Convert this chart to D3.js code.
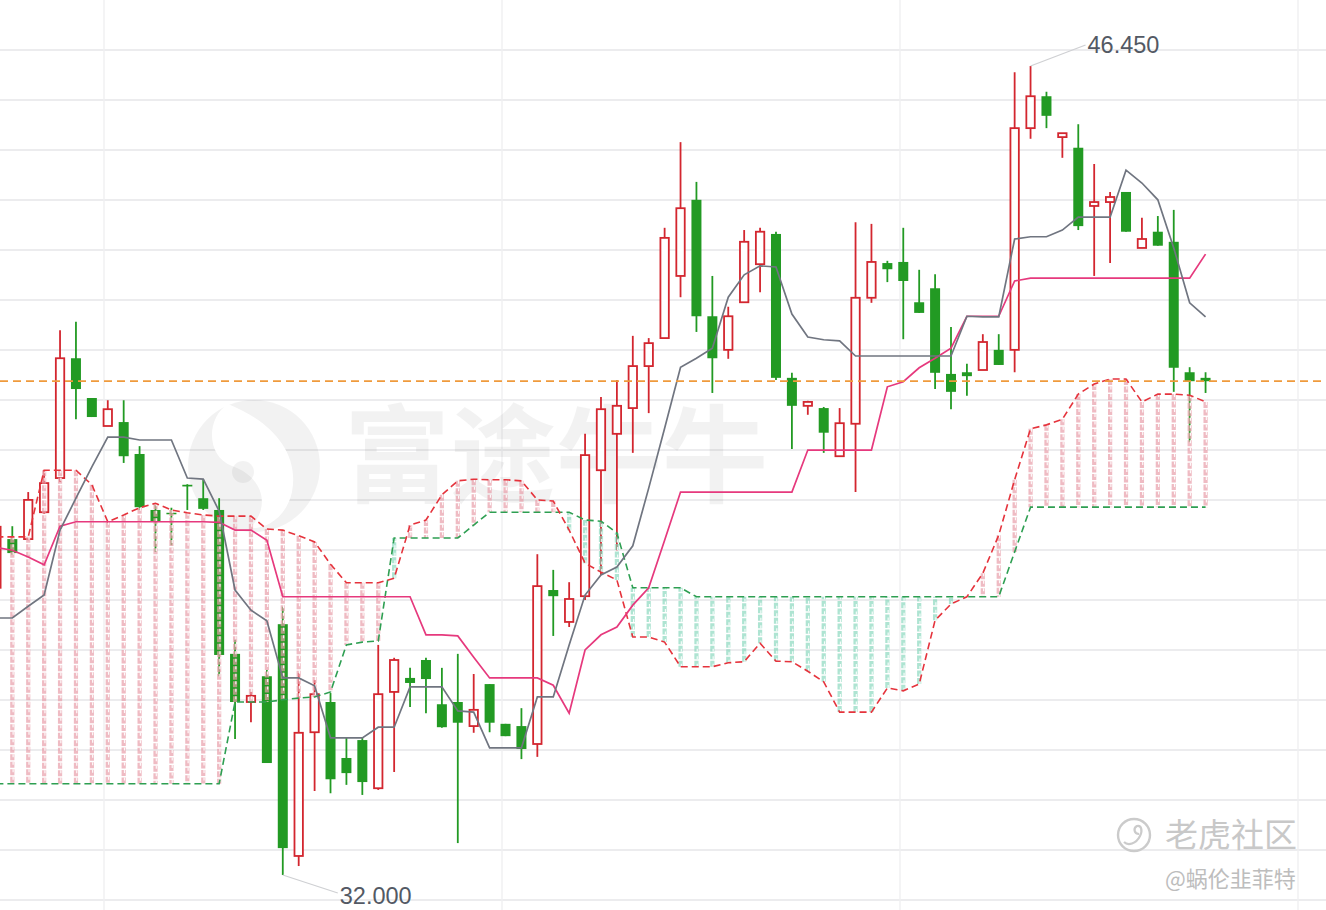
<!DOCTYPE html>
<html><head><meta charset="utf-8">
<script src="https://cdn.jsdelivr.net/npm/d3@7"></script>
<style>html,body{margin:0;padding:0;background:#fff;overflow:hidden}</style>
</head><body><svg id="chart" width="1326" height="910"></svg>
<script>
// ---- data (prices) ----
const open  = [37.13,38.00,38.00,38.48,39.09,41.23,40.52,40.02,40.09,39.52,38.52,38.47,38.97,38.73,38.52,35.95,35.09,35.55,36.48,32.34,34.55,35.09,34.09,34.41,33.55,35.27,35.52,35.84,35.05,35.09,34.66,35.41,34.70,34.66,34.34,37.09,36.52,36.98,39.23,39.88,40.34,41.09,41.59,42.70,44.06,41.98,41.38,42.23,42.91,43.45,40.88,40.38,40.34,39.48,40.06,42.31,42.93,42.95,42.23,42.48,40.95,40.98,41.02,41.38,41.38,45.34,45.91,45.18,44.99,43.95,44.02,44.20,43.20,43.49,43.31,40.98,40.88];
const high  = [38.43,38.23,38.84,39.23,41.73,41.88,40.52,40.48,40.48,39.66,38.61,38.56,38.98,39.07,38.73,36.20,35.27,35.66,36.79,35.61,35.48,35.25,34.45,34.45,36.11,35.88,35.70,35.88,35.70,35.95,35.59,35.41,34.70,34.98,37.73,37.45,37.23,39.88,40.54,40.84,41.63,41.59,43.56,45.09,44.38,42.70,42.15,43.52,43.56,43.49,40.97,40.47,40.36,40.34,43.66,43.63,42.97,43.56,42.81,42.73,41.79,41.13,41.66,41.66,46.34,46.45,45.99,45.25,45.41,44.70,44.20,44.20,43.74,43.77,43.88,41.07,40.98];
const low   = [37.09,37.72,37.98,38.45,39.02,40.14,40.18,40.02,39.36,38.52,37.77,37.89,38.52,38.52,35.55,34.43,34.73,34.00,32.00,32.16,33.50,33.46,33.61,33.43,33.52,33.84,35.00,34.89,34.63,32.57,34.54,34.55,34.48,34.07,34.11,36.27,36.43,36.91,37.36,37.80,39.54,40.25,41.59,42.32,41.70,40.61,41.22,42.23,42.41,40.84,39.61,40.22,39.54,39.48,38.84,42.22,42.59,41.57,42.04,40.68,40.32,40.56,41.02,41.11,40.98,45.15,45.34,44.81,43.52,42.70,42.93,43.49,43.20,43.24,40.63,39.73,40.61];
const close = [38.22,37.75,38.70,39.00,41.23,40.68,40.18,40.32,39.48,38.57,38.31,38.45,38.94,38.54,35.93,35.09,35.20,34.00,32.48,34.54,35.23,33.71,33.82,33.66,35.23,35.84,35.43,35.50,34.64,34.72,34.95,34.72,34.48,34.25,37.16,36.98,36.93,39.50,40.32,40.38,41.09,41.50,43.38,43.91,41.98,41.23,41.98,43.31,43.49,40.88,40.38,40.45,39.90,40.07,42.31,42.95,42.82,42.61,42.04,40.97,40.63,40.91,41.52,41.11,45.34,45.91,45.56,45.25,43.59,44.02,44.11,43.49,43.36,43.24,41.06,40.82,40.82];
// conversion line (grey) and base line (pink)
const tenkan = [36.59,36.59,36.80,37.00,38.16,38.73,39.29,39.82,39.82,39.77,39.77,39.77,39.09,39.07,38.50,37.09,36.73,36.54,35.52,35.52,35.38,34.45,34.45,34.45,34.64,34.64,35.36,35.36,35.36,34.93,34.91,34.27,34.27,34.27,35.18,35.18,36.11,37.00,37.36,37.50,37.88,38.91,39.98,41.07,41.23,41.41,42.32,42.72,42.88,42.86,42.02,41.61,41.56,41.54,41.27,41.27,41.27,41.27,41.27,41.27,41.27,41.98,41.97,41.97,43.36,43.40,43.40,43.52,43.75,43.75,43.75,44.59,44.36,44.06,43.20,42.22,41.97];
const kijun  = [37.85,37.80,37.68,37.54,38.23,38.31,38.31,38.31,38.31,38.31,38.31,38.31,38.31,38.31,38.30,38.16,38.16,37.98,36.97,36.97,36.97,36.97,36.97,36.97,36.97,36.97,36.97,36.29,36.29,36.27,35.89,35.52,35.52,35.52,35.52,35.39,34.89,36.02,36.29,36.43,36.82,37.13,37.98,38.84,38.84,38.84,38.84,38.84,38.84,38.84,38.84,39.59,39.59,39.59,39.59,39.59,40.72,40.81,41.06,41.23,41.41,41.98,41.98,41.98,42.61,42.66,42.66,42.66,42.66,42.66,42.66,42.66,42.66,42.66,42.66,42.66,43.09];
// leading spans (cloud)
const spanA = [38.04,38.04,38.04,39.23,39.23,39.23,38.97,38.31,38.43,38.56,38.64,38.52,38.47,38.43,38.41,38.41,38.41,38.18,38.16,38.06,37.95,37.55,37.22,37.22,37.22,37.30,38.25,38.34,38.79,39.04,39.07,39.06,39.06,39.04,38.70,38.68,38.16,37.57,37.41,37.27,36.25,36.25,36.16,35.72,35.72,35.72,35.79,35.81,36.14,35.82,35.81,35.64,35.45,34.91,34.91,34.91,35.34,35.29,35.41,36.55,36.84,36.97,37.39,38.07,39.06,39.97,40.04,40.14,40.59,40.77,40.86,40.86,40.45,40.59,40.59,40.57,40.45];
const spanB = [33.63,33.63,33.63,33.63,33.63,33.63,33.63,33.63,33.63,33.63,33.63,33.63,33.63,33.63,33.63,35.09,35.09,35.09,35.13,35.16,35.18,35.27,36.11,36.16,36.18,38.02,38.02,38.02,38.02,38.02,38.25,38.48,38.48,38.48,38.48,38.48,38.48,38.34,38.32,38.11,37.13,37.13,37.13,37.13,36.97,36.97,36.97,36.97,36.97,36.97,36.97,36.97,36.97,36.97,36.97,36.97,36.97,36.97,36.97,36.97,36.97,36.97,36.97,36.97,37.77,38.57,38.57,38.57,38.57,38.57,38.57,38.57,38.57,38.57,38.57,38.57,38.57];
const lastPrice = 40.82;
const maxLabel = "46.450", minLabel = "32.000";

// ---- layout ----
const W = 1326, H = 910;
const RED = "#d3262f", GREEN = "#229a23";
const svg = d3.select("#chart");
const n = close.length;
const x = d3.scaleLinear().domain([0, n - 1]).range([-3.6, -3.6 + (n - 1) * 15.91]);
const y = d3.scaleLinear().domain([32, 46.45]).range([875, 66]);
const bars = d3.range(n).map(i => ({i, o: open[i], h: high[i], l: low[i], c: close[i]}));

// grid
svg.append("g").selectAll("line").data(d3.range(50, 901, 50)).join("line")
  .attr("x1", 0).attr("x2", W).attr("y1", d => d).attr("y2", d => d)
  .attr("stroke", "#e6e6e9").attr("stroke-width", 1.6);
svg.append("g").selectAll("line").data(d3.range(104, W, 398)).join("line")
  .attr("x1", d => d).attr("x2", d => d).attr("y1", 0).attr("y2", H)
  .attr("stroke", "#efeff1").attr("stroke-width", 1.4);

// watermark (futu)
const wm = svg.append("g");
wm.append("circle").attr("cx", 254).attr("cy", 466).attr("r", 66).attr("fill", "rgba(0,0,0,0.05)");
wm.append("path").attr("d", "M228,404 C268,420 300,450 292,492 C286,520 262,530 250,528 C272,506 262,476 232,466 C206,456 206,418 228,404 Z")
  .attr("fill", "#fff");
wm.append("circle").attr("cx", 243).attr("cy", 472).attr("r", 11).attr("fill", "rgba(0,0,0,0.05)");
wm.append("text").attr("x", 344).attr("y", 494).text("富途牛牛")
  .attr("font-family", "Noto Sans CJK SC").attr("font-weight", 700).attr("font-size", 106)
  .attr("fill", "rgba(0,0,0,0.05)");

// candles
const cg = svg.append("g");
cg.selectAll("line").data(bars).join("line")
  .attr("x1", d => x(d.i)).attr("x2", d => x(d.i))
  .attr("y1", d => y(d.h)).attr("y2", d => y(d.l))
  .attr("stroke", d => d.c >= d.o ? RED : GREEN).attr("stroke-width", 1.8);
cg.selectAll("rect").data(bars).join("rect")
  .attr("x", d => x(d.i) - (d.c >= d.o ? 4.2 : 5))
  .attr("width", d => d.c >= d.o ? 8.4 : 10)
  .attr("y", d => y(Math.max(d.o, d.c)))
  .attr("height", d => Math.max(y(Math.min(d.o, d.c)) - y(Math.max(d.o, d.c)), 1.5))
  .attr("fill", d => d.c >= d.o ? "#fff" : GREEN)
  .attr("stroke", d => d.c >= d.o ? RED : "none")
  .attr("stroke-width", 1.8);

// cloud hatch
const hatch = bars.filter(d => Math.abs(spanA[d.i] - spanB[d.i]) > 0.02);
const hg = svg.append("g");
hg.selectAll("line.h").data(hatch).join("line").attr("class", "h")
  .attr("x1", d => x(d.i)).attr("x2", d => x(d.i))
  .attr("y1", d => y(spanA[d.i])).attr("y2", d => y(spanB[d.i]))
  .attr("stroke", d => spanA[d.i] > spanB[d.i] ? "rgba(232,158,170,0.7)" : "rgba(130,214,186,0.65)")
  .attr("stroke-width", 4.2).attr("stroke-dasharray", "6,1.5");
hg.selectAll("line.w").data(hatch).join("line").attr("class", "w")
  .attr("x1", d => x(d.i) + 0.8).attr("x2", d => x(d.i) + 0.8)
  .attr("y1", d => y(spanA[d.i])).attr("y2", d => y(spanB[d.i]))
  .attr("stroke", "rgba(255,255,255,0.9)").attr("stroke-width", 1.2)
  .attr("stroke-dasharray", "3,4.5");

const line = d3.line().x((d, i) => x(i)).y(d => y(d));
svg.append("path").attr("d", line(spanB)).attr("fill", "none")
  .attr("stroke", "#2e9f52").attr("stroke-width", 1.6).attr("stroke-dasharray", "7,4");
svg.append("path").attr("d", line(spanA)).attr("fill", "none")
  .attr("stroke", "#e5333c").attr("stroke-width", 1.6).attr("stroke-dasharray", "7,4");
svg.append("path").attr("d", line(kijun)).attr("fill", "none")
  .attr("stroke", "#e6397d").attr("stroke-width", 1.7);
svg.append("path").attr("d", line(tenkan)).attr("fill", "none")
  .attr("stroke", "#707580").attr("stroke-width", 1.7);

// last price line
svg.append("line").attr("x1", 0).attr("x2", W).attr("y1", y(lastPrice)).attr("y2", y(lastPrice))
  .attr("stroke", "#ef9a3c").attr("stroke-width", 1.7).attr("stroke-dasharray", "8,5");

// max / min annotations
const hiIdx = d3.maxIndex(high), loIdx = d3.minIndex(low);
const ann = svg.append("g").attr("font-family", "Liberation Sans, Arial, sans-serif").attr("font-size", 23.5).attr("fill", "#535964");
ann.append("line").attr("x1", x(hiIdx)).attr("y1", y(high[hiIdx]))
  .attr("x2", x(hiIdx) + 55).attr("y2", y(high[hiIdx]) - 21).attr("stroke", "#cfd0d3").attr("stroke-width", 1.3);
ann.append("text").attr("x", x(hiIdx) + 57).attr("y", y(high[hiIdx]) - 13).text(maxLabel);
ann.append("line").attr("x1", x(loIdx)).attr("y1", y(low[loIdx]))
  .attr("x2", x(loIdx) + 55).attr("y2", y(low[loIdx]) + 18).attr("stroke", "#cfd0d3").attr("stroke-width", 1.3);
ann.append("text").attr("x", x(loIdx) + 57).attr("y", y(low[loIdx]) + 29).text(minLabel);

// bottom-right watermark
const tw = svg.append("g");
tw.append("circle").attr("cx", 1134).attr("cy", 835).attr("r", 16).attr("fill", "none").attr("stroke", "#cbcbcb").attr("stroke-width", 2.4);
tw.append("path").attr("d", "M1124,842 C1128,846 1136,844 1140,836 C1143,830 1141,825 1137,826 C1133,828 1134,834 1139,834")
  .attr("fill", "none").attr("stroke", "#cbcbcb").attr("stroke-width", 2.2);
tw.append("text").attr("x", 1165).attr("y", 847).text("老虎社区")
  .attr("font-family", "Noto Sans CJK SC").attr("font-size", 33).attr("fill", "#c8c8c8");
tw.append("text").attr("x", 1165).attr("y", 887).text("@蜗伦韭菲特")
  .attr("font-family", "Noto Sans CJK SC").attr("font-size", 22).attr("fill", "#bdbdbd");
</script>
</body></html>
